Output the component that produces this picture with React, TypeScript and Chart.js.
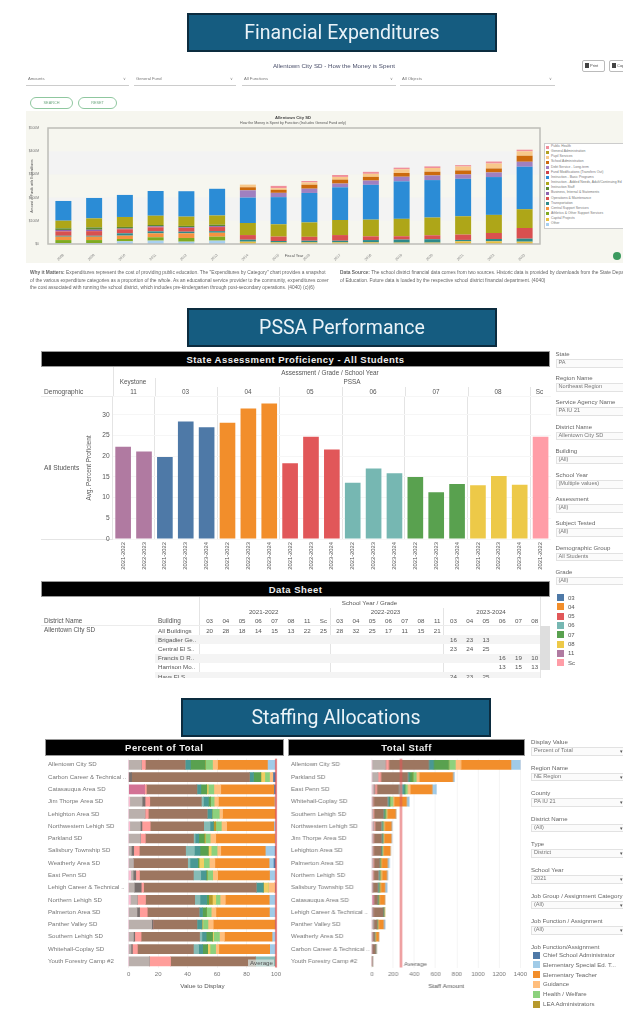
import React, { useEffect, useRef } from "react";
import { Chart, registerables } from "chart.js";

Chart.register(...registerables);

// ---------- Financial Expenditures ----------
const fiscalYears = ["2008","2009","2010","2011","2012","2013","2014","2015","2016","2017","2018","2019","2020","2021","2022","2023"];
const finOther = [40,40,115,145,100,145,0,0,0,0,0,0,0,0,0,0];
const finCapital = [0,0,0,0,0,0,100,70,70,70,70,60,60,115,115,100];
const finAthletics = [130,130,100,145,160,170,0,0,0,0,0,0,0,0,0,0];
const finCentral = [145,145,145,170,200,170,0,0,0,0,0,0,0,0,0,0];
const finTransport = [40,40,100,85,70,70,85,60,70,70,100,130,145,60,100,130];
const finOperations = [190,200,175,175,160,175,200,190,170,245,160,145,170,230,260,460];
const finBusiness = [60,60,30,40,30,40,0,0,0,0,0,0,0,0,0,0];
const finStaff = [70,100,70,60,60,60,0,0,0,0,0,0,0,0,0,0];
const finAdded = [330,390,430,400,400,400,520,530,620,650,720,750,765,790,780,810];
const finBasic = [850,880,950,1065,1095,1150,1095,1170,1270,1410,1500,1615,1615,1615,1630,1830];
const finFund = [0,0,0,0,0,0,0,0,0,0,0,0,0,0,0,0];
const finDebt = [0,0,0,0,0,0,315,185,185,160,185,200,200,190,200,215];
const finSchool = [0,0,0,0,0,0,130,130,170,170,160,160,160,170,170,260];
const finPupil = [0,0,0,0,0,0,115,70,100,115,130,160,160,170,215,190];
const finGeneral = [0,0,0,0,0,0,0,0,0,0,0,0,0,0,0,0];
const finHealth = [0,0,0,0,0,0,0,100,60,85,85,70,70,60,85,70];

const finLegendNames = ["Public Health","General Administration","Pupil Services","School Administration","Debt Service - Long-term","Fund Modifications (Transfers Out)","Instruction - Basic Programs","Instruction - Added Needs, Adult/Continuing Ed","Instruction Staff","Business, Internal & Statements","Operations & Maintenance","Transportation","Central Support Services","Athletics & Other Support Services","Capital Projects","Other"];
const finLegendColors = ["#f08f9a","#b0a020","#f8c88a","#cc6a0c","#a080c0","#cf4146","#2b8cd6","#aea618","#5c8a30","#8f63b0","#d9504f","#2e8a8a","#f59240","#80aa20","#e8c040","#a8d0f0"];
const finSeries = [finHealth,finGeneral,finPupil,finSchool,finDebt,finFund,finBasic,finAdded,finStaff,finBusiness,finOperations,finTransport,finCentral,finAthletics,finCapital,finOther];
const finYTicks = ["$0","$100M","$200M","$300M","$400M","$500M"];

// ---------- PSSA ----------
const profGrades = ["11","11","03","03","03","04","04","04","05","05","05","06","06","06","07","07","07","08","08","08","Sc"];
const profYears = ["2021-2022","2022-2023","2021-2022","2022-2023","2023-2024","2021-2022","2022-2023","2023-2024","2021-2022","2022-2023","2023-2024","2021-2022","2022-2023","2023-2024","2021-2022","2022-2023","2023-2024","2021-2022","2022-2023","2023-2024","2021-2022"];
const profValues = [22.3,21.1,19.8,28.4,27,28.1,31.5,32.7,18.3,24.7,21.6,13.6,17,15.9,15,11.3,13.3,13,15.2,13.1,24.7];
const gradeNames = ["03","04","05","06","07","08","11","Sc"];
const gradeColors = ["#4e79a7","#f28e2b","#e15759","#76b7b2","#59a14f","#edc948","#b07aa1","#ff9da7"];
const profFilterNames = ["State","Region Name","Service Agency Name","District Name","Building","School Year","Assessment","Subject Tested","Demographic Group","Grade"];
const profFilterValues = ["PA","Northeast Region","PA IU 21","Allentown City SD","(All)","(Multiple values)","(All)","(All)","All Students","(All)"];

// ---------- Data sheet ----------
const sheetGrades = ["03","04","05","06","07","08","11","Sc","03","04","05","06","07","08","11","03","04","05","06","07","08"];
const sheetBuildings = ["All Buildings","Brigadier Ge..","Central El S..","Francis D R..","Harrison Mo..","Hays El S.."];
const sheetAll = ["20","28","18","14","15","13","22","25","28","32","25","17","11","15","21","","","","","",""];
const sheetBrigadier = ["","","","","","","","","","","","","","","","16","23","13","","",""];
const sheetCentral = ["","","","","","","","","","","","","","","","23","24","25","","",""];
const sheetFrancis = ["","","","","","","","","","","","","","","","","","","16","19","10"];
const sheetHarrison = ["","","","","","","","","","","","","","","","","","","13","15","13"];
const sheetHays = ["","","","","","","","","","","","","","","","24","23","25","","",""];
const sheetRows = [sheetAll,sheetBrigadier,sheetCentral,sheetFrancis,sheetHarrison,sheetHays];

// ---------- Staffing ----------
const pctDistricts = ["Allentown City SD","Carbon Career & Technical ..","Catasauqua Area SD","Jim Thorpe Area SD","Lehighton Area SD","Northwestern Lehigh SD","Parkland SD","Salisbury Township SD","Weatherly Area SD","East Penn SD","Lehigh Career & Technical ..","Northern Lehigh SD","Palmerton Area SD","Panther Valley SD","Southern Lehigh SD","Whitehall-Coplay SD","Youth Forestry Camp #2"];
const staffDistricts = ["Allentown City SD","Parkland SD","East Penn SD","Whitehall-Coplay SD","Southern Lehigh SD","Northwestern Lehigh SD","Jim Thorpe Area SD","Lehighton Area SD","Palmerton Area SD","Northern Lehigh SD","Salisbury Township SD","Catasauqua Area SD","Lehigh Career & Technical ..","Panther Valley SD","Weatherly Area SD","Carbon Career & Technical ..","Youth Forestry Camp #2"];
const jobColors = ["#d37295","#fabfd2","#bab0ac","#79706e","#ff9d9a","#9d7660","#86bcb6","#499894","#59a14f","#b6992d","#f1ce63","#8cd17d","#ffbe7d","#f28e2b","#a0cbe8","#4e79a7"];
const jobNames = ["Job A","Job B","Job C","Job D","Job E","Job F","Job G","Job H","Job I","LEA Administrators","Job K","Health / Welfare","Guidance","Elementary Teacher","Elementary Special Ed. T...","Chief School Administrator"];

const pctPink = [0,0,10.8,0,0,0,0,0,0,0,0,0,0,0,0,0,0];
const pctLightPink = [0,0,0,.7,0,.7,0,0,0,1.4,0,1.1,0,0,0,0,0];
const pctLightGray = [8.6,0,0,8.4,11,7.2,7.9,1.8,3.2,1.6,3.8,4.7,5.6,15.6,3.2,1.6,14];
const pctDarkGray = [0,2,0,2,0,1.1,0,1.6,0,1.8,4.7,0,1.8,.9,.9,.9,0];
const pctLightRed = [2.7,0,1.2,3.2,2.3,5.6,3.4,3.8,0,2.5,1.6,5.6,5.2,0,4.3,3.4,14.4];
const pctBrown = [27,80,34.3,35,40,36.3,32.7,31.4,36.8,36.6,76.5,33.4,35.2,29.8,39.7,38,57.7];
const pctLightTeal = [0,0,0,1.4,0,4.3,1.1,6,1.6,5,0,3.6,0,0,1.6,3.6,14];
const pctTeal = [3.6,2.7,2.7,3.4,3.2,2.3,2.5,3.8,5.2,3.6,4.7,4.5,2.3,3.4,2.9,2.7,0];
const pctGreen = [10,5,4,1.4,0,0,3.6,5.6,.9,.7,0,1.4,2.7,0,4.3,3.4,0];
const pctOlive = [0,0,0,0,0,1.6,.7,0,0,0,0,2.5,0,0,0,0,0];
const pctYellow = [0,2.7,1,0,0,0,0,2,3.2,0,3.4,2.3,0,.7,.7,1.6,0];
const pctLightGreen = [5,3.2,3.8,2.5,5,3.8,3.4,4,3.8,3.8,0,2.9,3.2,3.4,4,3.8,0];
const pctPeach = [3.4,2.2,4.7,2.9,2.2,3.6,3.8,2.5,3.8,3.4,4.5,3.6,3.2,3.6,3.4,2.2,0];
const pctOrange = [33.9,0,36,38,36.3,32,40,30.2,36.8,35.2,0,29.8,36.3,42,32.3,34.5,0];
const pctLightBlue = [5.9,0,0,1.3,0,1.6,.9,6.3,2.9,4.7,0,4.7,4.7,0,2.9,4.3,0];
const pctBlue = [0,2.5,1.4,0,0,0,0,.9,2,0,.9,0,0,.9,0,0,0];
const pctSeries = [pctPink,pctLightPink,pctLightGray,pctDarkGray,pctLightRed,pctBrown,pctLightTeal,pctTeal,pctGreen,pctOlive,pctYellow,pctLightGreen,pctPeach,pctOrange,pctLightBlue,pctBlue];

const stfPink = [0,0,0,0,0,0,0,0,0,0,0,12,0,0,0,0,0];
const stfLightPink = [0,0,5,0,0,2,0,0,0,2,0,0,0,0,0,0,0];
const stfLightGray = [126,57,15,5,8,14,8,8,8,5,4,0,5,14,2,0,1];
const stfDarkGray = [0,0,5,0,2,2,4,0,3,0,3,0,6,2,1,2,0];
const stfLightRed = [31,25,19,8,8,9,6,5,7,6,3,2,2,0,0,0,0];
const stfBrown = [377,255,208,132,88,60,72,72,53,47,44,38,91,31,22,31,3];
const stfLightTeal = [0,4,35,5,3,8,3,0,0,8,5,0,0,0,1,0,0];
const stfTeal = [47,12,19,12,8,5,8,8,4,6,6,6,6,3,3,2,0];
const stfGreen = [142,31,6,8,8,0,2,0,4,2,5,4,0,0,0,1,0];
const stfOlive = [0,2,0,0,0,2,0,0,0,3,0,0,0,0,0,0,0];
const stfYellow = [0,0,0,4,0,0,0,0,0,3,2,1,6,1,2,1,0];
const stfLightGreen = [63,31,22,22,11,7,4,8,5,4,5,4,0,5,2,1,0];
const stfPeach = [53,28,25,10,8,8,5,5,5,6,3,3,6,5,2,1,0];
const stfOrange = [472,318,208,120,79,66,69,66,57,47,41,50,0,47,28,0,0];
const stfLightBlue = [91,13,38,22,2,4,2,0,16,6,16,2,0,10,2,0,0];
const stfBlue = [0,0,0,0,0,0,0,0,0,0,1,1,1,1,1,1,3];
const stfSeries = [stfPink,stfLightPink,stfLightGray,stfDarkGray,stfLightRed,stfBrown,stfLightTeal,stfTeal,stfGreen,stfOlive,stfYellow,stfLightGreen,stfPeach,stfOrange,stfLightBlue,stfBlue];
const pctAverage = 100;
const stfAverage = 273;

const staffFilterNames = ["Display Value","Region Name","County","District Name","Type","School Year","Job Group / Assignment Category","Job Function / Assignment"];
const staffFilterValues = ["Percent of Total","NE Region","PA IU 21","(All)","District","2021","(All)","(All)"];
const staffLegendNames = ["Chief School Administrator","Elementary Special Ed. T...","Elementary Teacher","Guidance","Health / Welfare","LEA Administrators"];
const staffLegendColors = ["#4e79a7","#a0cbe8","#f28e2b","#ffbe7d","#8cd17d","#b6992d"];

// ---------- helpers ----------
const SANS = '"Liberation Sans", Arial, sans-serif';

const fixedSize = (w?: number, h?: number) => (s: any) => {
  if (w !== undefined) s.width = w;
  if (h !== undefined) s.height = h;
};

function ChartBox({ left, top, width, height, make }: any) {
  const ref = useRef<HTMLCanvasElement>(null);
  useEffect(() => {
    const chart = new Chart(ref.current as HTMLCanvasElement, make());
    return () => chart.destroy();
  }, []);
  return <canvas ref={ref} width={width} height={height} style={{ position: "absolute", left, top, width, height, display: "block" }} />;
}

function T({ x, y, children, size = 7, color = "#555", align = "left", weight = 400, family = SANS, spacing }: any) {
  const tx = align === "center" ? "-50%" : align === "right" ? "-100%" : "0";
  return (
    <div style={{ position: "absolute", left: x, top: y, transform: `translate(${tx},-50%)`, fontSize: size, lineHeight: 1, color, fontWeight: weight, fontFamily: family, whiteSpace: "nowrap", letterSpacing: spacing }}>
      {children}
    </div>
  );
}

function Rect({ x, y, w, h, bg, style }: any) {
  return <div style={{ position: "absolute", left: x, top: y, width: w, height: h, background: bg, ...style }} />;
}

function Banner({ x, y, w, h, text }: any) {
  return (
    <div style={{ position: "absolute", left: x, top: y, width: w, height: h, boxSizing: "border-box", background: "#155c80", border: "2px solid #0c2c3f", color: "#eaf3f8", fontFamily: "Roboto, sans-serif", fontSize: 19.5, display: "flex", alignItems: "center", justifyContent: "center", filter: "blur(0.35px)" }}>
      {text}
    </div>
  );
}

function BlackHead({ x, y, w, h, text, size = 9.5 }: any) {
  return (
    <div style={{ position: "absolute", left: x, top: y, width: w, height: h, boxSizing: "border-box", background: "#000", border: "1px solid #999", color: "#eee", fontFamily: SANS, fontWeight: 700, fontSize: size, letterSpacing: 0.45, display: "flex", alignItems: "center", justifyContent: "center" }}>
      {text}
    </div>
  );
}

function FilterBox({ x, y, label, value, arrow }: any) {
  return (
    <>
      <T x={x} y={y} size={6.1} color="#666">{label}</T>
      <div style={{ position: "absolute", left: x, top: y + 5, width: 100, height: 8.5, boxSizing: "border-box", background: "#fbfbfb", border: "1px solid #e2e2e2" }} />
      <T x={x + 3} y={y + 9} size={5.6} color="#777">{value}</T>
      {arrow && <T x={621} y={y + 9} size={5} color="#555" align="center">▾</T>}
    </>
  );
}

// ---------- chart configs ----------
function makeFinance() {
  const rev = finSeries.map((_, i) => finSeries.length - 1 - i);
  const bands = {
    id: "bands",
    beforeDatasetsDraw(c: any) {
      const { ctx, chartArea: a, scales } = c;
      ctx.save();
      ctx.fillStyle = "#f3f3f3";
      [[1000, 2000], [3000, 4000]].forEach(([lo, hi]) => {
        const t = scales.y.getPixelForValue(hi);
        const b = scales.y.getPixelForValue(lo);
        ctx.fillRect(a.left, t, a.right - a.left, b - t);
      });
      ctx.restore();
    },
    afterDatasetsDraw(c: any) {
      const { ctx, chartArea: a } = c;
      ctx.save();
      ctx.strokeStyle = "#bdbdb8";
      ctx.lineWidth = 1.5;
      ctx.strokeRect(a.left, a.top, a.right - a.left, a.bottom - a.top);
      ctx.restore();
    },
  };
  return {
    type: "bar",
    data: {
      labels: fiscalYears,
      datasets: rev.map((i) => ({
        label: finLegendNames[i],
        data: finSeries[i],
        backgroundColor: finLegendColors[i],
        stack: "s",
        barPercentage: 0.52,
        categoryPercentage: 1,
      })),
    },
    plugins: [bands],
    options: {
      responsive: false,
      animation: false,
      layout: { padding: { top: 17, right: 83, left: 0, bottom: 0 } },
      plugins: { legend: { display: false }, title: { display: false }, tooltip: { enabled: false } },
      scales: {
        x: {
          stacked: true,
          afterFit: fixedSize(undefined, 19),
          grid: { display: false },
          border: { display: false },
          title: { display: true, text: "Fiscal Year", font: { size: 3.8, family: SANS }, color: "#555", padding: { top: 0, bottom: 5 } },
          ticks: { minRotation: 45, maxRotation: 45, font: { size: 3.6, family: SANS }, color: "#777", padding: 1 },
        },
        y: {
          stacked: true,
          min: 0,
          max: 5000,
          afterFit: fixedSize(22),
          grid: { display: false },
          border: { display: false },
          title: { display: true, text: "Amount of Funds with Expenditures", font: { size: 3.4, family: SANS }, color: "#555", padding: { top: 4, bottom: 0 } },
          ticks: { stepSize: 1000, font: { size: 3.4, family: SANS }, color: "#777", padding: 1, callback: (v: number) => finYTicks[v / 1000] },
        },
      },
    },
  };
}

function makeProf() {
  return {
    type: "bar",
    data: {
      labels: profYears,
      datasets: [{
        label: "Avg. Percent Proficient",
        data: profValues,
        backgroundColor: profGrades.map((g) => gradeColors[gradeNames.indexOf(g)]),
        barPercentage: 0.75,
        categoryPercentage: 1,
      }],
    },
    options: {
      responsive: false,
      animation: false,
      layout: { padding: { top: 6.7, right: 1, left: 0, bottom: 0 } },
      plugins: { legend: { display: false }, tooltip: { enabled: false } },
      scales: {
        x: {
          afterFit: fixedSize(undefined, 36),
          border: { display: false },
          grid: {
            offset: true,
            drawTicks: false,
            lineWidth: 1,
            color: (c: any) => (c.index === 0 || profGrades[c.index] !== profGrades[c.index - 1] ? "#e4e4e4" : "transparent"),
          },
          ticks: { minRotation: 90, maxRotation: 90, autoSkip: false, font: { size: 5.8, family: SANS }, color: "#555", padding: 3 },
        },
        y: {
          min: 0,
          max: 34.3,
          afterFit: fixedSize(27.7),
          border: { display: false },
          grid: { color: "#f6f6f6", drawTicks: false },
          title: { display: true, text: "Avg. Percent Proficient", font: { size: 6.4, family: SANS }, color: "#555", padding: 0 },
          ticks: { stepSize: 5, font: { size: 6.6, family: SANS }, color: "#555", padding: 3, callback: (v: number) => (v % 5 === 0 ? String(v) : "") },
        },
      },
    },
  };
}

function makeStaffChart(labels: string[], series: number[][], max: number, step: number, avg: number, xTitle: string, avgSide: "left" | "right") {
  const avgLine = {
    id: "avgLine",
    afterDatasetsDraw(c: any) {
      const { ctx, chartArea: a, scales } = c;
      const x = scales.x.getPixelForValue(avg);
      ctx.save();
      ctx.strokeStyle = "rgba(225,87,89,0.7)";
      ctx.lineWidth = 2.2;
      ctx.beginPath();
      ctx.moveTo(x, a.top);
      ctx.lineTo(x, a.bottom);
      ctx.stroke();
      ctx.font = `6.2px ${SANS}`;
      ctx.textBaseline = "middle";
      if (avgSide === "left") {
        ctx.textAlign = "right";
        ctx.fillStyle = "rgba(215,225,222,0.75)";
        ctx.fillRect(x - 28, a.bottom - 8, 26, 7);
        ctx.fillStyle = "#555";
        ctx.fillText("Average", x - 3, a.bottom - 4.3);
      } else {
        ctx.textAlign = "left";
        ctx.fillStyle = "#666";
        ctx.fillText("Average", x + 3, a.bottom - 3.5);
      }
      ctx.restore();
    },
  };
  return {
    type: "bar",
    data: {
      labels,
      datasets: series.map((d, i) => ({
        label: jobNames[i],
        data: d,
        backgroundColor: jobColors[i],
        stack: "s",
        barThickness: 9,
      })),
    },
    plugins: [avgLine],
    options: {
      responsive: false,
      animation: false,
      indexAxis: "y",
      layout: { padding: { top: 3, right: 9, left: 0, bottom: 0 } },
      plugins: { legend: { display: false }, tooltip: { enabled: false } },
      scales: {
        x: {
          stacked: true,
          min: 0,
          max,
          afterFit: fixedSize(undefined, 27.5),
          border: { display: false },
          grid: { color: "#f4f4f4", drawTicks: false },
          title: { display: true, text: xTitle, font: { size: 6.2, family: SANS }, color: "#555", padding: { top: 3, bottom: 5 } },
          ticks: { stepSize: step, font: { size: 6, family: SANS }, color: "#777", padding: 3, maxRotation: 0, callback: (v: number) => String(v) },
        },
        y: {
          stacked: true,
          afterFit: fixedSize(80.7),
          border: { display: false },
          grid: { display: false },
          ticks: { autoSkip: false, crossAlign: "far", font: { size: 6.1, family: SANS }, color: "#777", padding: 0 },
        },
      },
    },
  };
}

// ---------- page ----------
const sheetX = (i: number) => 209.6 + i * 16.26;

export default function App() {
  useEffect(() => {
    document.body.style.margin = "0";
    document.body.style.background = "#fff";
  }, []);
  return (
    <div style={{ position: "absolute", left: 0, top: 0, width: 623, height: 1012, overflow: "hidden", background: "#fff" }}>
      <Banner x={187} y={13} w={310} h={39} text="Financial Expenditures" />
      <Banner x={187} y={308} w={310} h={39} text="PSSA Performance" />
      <Banner x={181} y={698} w={310} h={39} text="Staffing Allocations" />

      {/* Finance section */}
      <div style={{ position: "absolute", inset: 0, filter: "blur(0.65px)" }}>
        <T x={334} y={66} size={6.2} color="#4a4f6a" align="center">Allentown City SD - How the Money is Spent</T>
        <div style={{ position: "absolute", left: 582, top: 60, width: 23, height: 12, boxSizing: "border-box", border: "1px solid #bbb", borderRadius: 2 }} />
        <T x={590} y={66} size={4} color="#555">Print</T>
        <Rect x={585} y={63} w={4} h={5} bg="#444" />
        <div style={{ position: "absolute", left: 609, top: 60, width: 30, height: 12, boxSizing: "border-box", border: "1px solid #bbb", borderRadius: 2 }} />
        <Rect x={612} y={63} w={4} h={5} bg="#444" />
        <T x={617} y={66} size={4} color="#555">Copy</T>
        {[[26, 103, "Amounts"], [134, 102, "General Fund"], [242, 154, "All Functions"], [400, 155, "All Objects"]].map(([x, w, t]: any) => (
          <React.Fragment key={t}>
            <T x={x + 2} y={79} size={4.2} color="#777">{t}</T>
            <Rect x={x} y={85} w={w} h={1} bg="#ccc" />
            <T x={x + w - 5} y={79} size={4} color="#888" align="center">∨</T>
          </React.Fragment>
        ))}
        {[[30, 43, "SEARCH"], [78, 39, "RESET"]].map(([x, w, t]: any) => (
          <div key={t} style={{ position: "absolute", left: x, top: 97, width: w, height: 12, boxSizing: "border-box", border: "1px solid #8fc79f", borderRadius: 6, color: "#6fa880", fontSize: 3.8, fontFamily: SANS, display: "flex", alignItems: "center", justifyContent: "center" }}>{t}</div>
        ))}
        <Rect x={26} y={111} w={597} h={152} bg="#f6f6ef" />
        <ChartBox left={26} top={111} width={597} height={152} make={makeFinance} />
        <T x={293} y={118} size={4.2} color="#444" weight={700} align="center">Allentown City SD</T>
        <T x={293} y={124} size={3.6} color="#555" align="center">How the Money is Spent by Function (Includes General Fund only)</T>
        <div style={{ position: "absolute", left: 544, top: 143, width: 100, height: 86, boxSizing: "border-box", background: "#fff", border: "1px solid #ccc" }} />
        {finLegendNames.map((n, i) => (
          <React.Fragment key={n}>
            <Rect x={546} y={145.5 + i * 5.15} w={3} h={3} bg={finLegendColors[i]} />
            <T x={551} y={147 + i * 5.15} size={3.4} color="#777">{n}</T>
          </React.Fragment>
        ))}
        <Rect x={613} y={252} w={8} h={8} bg="#3c9a5f" style={{ borderRadius: 4 }} />
        <T x={30} y={273} size={4.85} color="#666"><b>Why it Matters:</b> Expenditures represent the cost of providing public education. The "Expenditures by Category" chart provides a snapshot</T>
        <T x={30} y={281} size={4.85} color="#666">of the various expenditure categories as a proportion of the whole. As an educational service provider to the community, expenditures cover</T>
        <T x={30} y={288} size={4.85} color="#666">the cost associated with running the school district, which includes pre-kindergarten through post-secondary operations. (4040) (c)(6)</T>
        <T x={340} y={273} size={4.85} color="#666"><b>Data Source:</b> The school district financial data comes from two sources. Historic data is provided by downloads from the State Department</T>
        <T x={340} y={281} size={4.85} color="#666">of Education. Future data is loaded by the respective school district financial department. (4040)</T>
      </div>

      {/* PSSA section */}
      <div style={{ position: "absolute", inset: 0, filter: "blur(0.5px)" }}>
        <BlackHead x={41} y={351} w={509} h={16} text="State Assessment Proficiency - All Students" />
        <Rect x={112.5} y={367} w={1} h={30} bg="#e4e4e4" />
        <Rect x={155} y={378} w={1} h={19} bg="#e4e4e4" />
        <Rect x={41} y={396} w={510} h={1} bg="#ececec" />
        <Rect x={41} y={539} w={72} h={1} bg="#e4e4e4" />
        <T x={330} y={373} size={6.4} align="center">Assessment / Grade / School Year</T>
        <T x={133} y={382} size={6.4} align="center">Keystone</T>
        <T x={352} y={382} size={6.4} align="center">PSSA</T>
        <T x={44} y={392} size={6.6}>Demographic</T>
        <T x={44} y={468} size={6.6}>All Students</T>
        {[["11", 133.5], ["03", 185.5], ["04", 248], ["05", 310], ["06", 373], ["07", 436], ["08", 498], ["Sc", 539.5]].map(([g, x]: any) => (
          <React.Fragment key={g}>
            <T x={x} y={392} size={6.4} align="center">{g}</T>
          </React.Fragment>
        ))}
        {[217, 279, 341.7, 404.7, 467.7, 530].map((x) => <Rect key={x} x={x} y={387} w={1} h={10} bg="#e4e4e4" />)}
        <ChartBox left={85} top={390} width={467} height={185} make={makeProf} />

        {profFilterNames.map((n, i) => (
          <FilterBox key={n} x={555.5} y={354 + i * 24.2} label={n} value={profFilterValues[i]} />
        ))}
        {gradeNames.map((g, i) => (
          <React.Fragment key={g}>
            <Rect x={556.5} y={594 + i * 9.3} w={7.5} h={7} bg={gradeColors[i]} />
            <T x={568} y={597.5 + i * 9.3} size={6}>{g}</T>
          </React.Fragment>
        ))}

        <BlackHead x={41} y={581} w={509} h={16} text="Data Sheet" />
        <Rect x={199} y={597} w={1} h={81} bg="#e4e4e4" />
        <Rect x={330} y={608} w={1} h={70} bg="#e4e4e4" />
        <Rect x={443} y={608} w={1} h={70} bg="#e4e4e4" />
        <Rect x={539.5} y={597} w={1} h={81} bg="#e4e4e4" />
        <Rect x={41} y={625} w={498} h={1} bg="#ececec" />
        <T x={369.5} y={603} size={6.2} align="center">School Year / Grade</T>
        <T x={263.7} y={612} size={6.2} align="center">2021-2022</T>
        <T x={385.5} y={612} size={6.2} align="center">2022-2023</T>
        <T x={491} y={612} size={6.2} align="center">2023-2024</T>
        <T x={44} y={621} size={6.4}>District Name</T>
        <T x={158} y={621} size={6.4}>Building</T>
        <T x={44} y={630} size={6.4}>Allentown City SD</T>
        {sheetGrades.map((g, i) => <T key={i} x={sheetX(i)} y={621} size={6.2} align="center">{g}</T>)}
        {[635, 654, 672].map((y, i) => <Rect key={y} x={155} y={y} w={385} h={i === 2 ? 6 : 9} bg="#f4f4f4" />)}
        <div style={{ position: "absolute", left: 0, top: 0, width: 623, height: 678, overflow: "hidden" }}>
          {sheetBuildings.map((b, r) => (
            <React.Fragment key={b}>
              <T x={158} y={630.5 + r * 9.2} size={6.2}>{b}</T>
              {sheetRows[r].map((v, i) => v && <T key={i} x={sheetX(i)} y={630.5 + r * 9.2} size={6.2} align="center">{v}</T>)}
            </React.Fragment>
          ))}
        </div>
        <Rect x={540} y={626} w={10} h={44} bg="#dedede" />
      </div>

      {/* Staffing section */}
      <div style={{ position: "absolute", inset: 0, filter: "blur(0.5px)" }}>
        <BlackHead x={44.5} y={739} w={239.5} h={17} text="Percent of Total" size={9.5} />
        <BlackHead x={288} y={739} w={237} h={17} text="Total Staff" size={9.5} />
        <ChartBox left={48} top={755} width={237.3} height={240} make={() => makeStaffChart(pctDistricts, pctSeries, 100, 20, pctAverage, "Value to Display", "left")} />
        <ChartBox left={291} top={755} width={238.5} height={240} make={() => makeStaffChart(staffDistricts, stfSeries, 1400, 200, stfAverage, "Staff Amount", "right")} />
        {staffFilterNames.map((n, i) => (
          <FilterBox key={n} x={531} y={742 + i * 25.6} label={n} value={staffFilterValues[i]} arrow />
        ))}
        <T x={531} y={947} size={6.1} color="#666">Job Function/Assignment</T>
        {staffLegendNames.map((n, i) => (
          <React.Fragment key={n}>
            <Rect x={532.5} y={951.5 + i * 9.8} w={7} h={7} bg={staffLegendColors[i]} />
            <T x={543} y={955 + i * 9.8} size={6.1} color="#666">{n}</T>
          </React.Fragment>
        ))}
      </div>
    </div>
  );
}
